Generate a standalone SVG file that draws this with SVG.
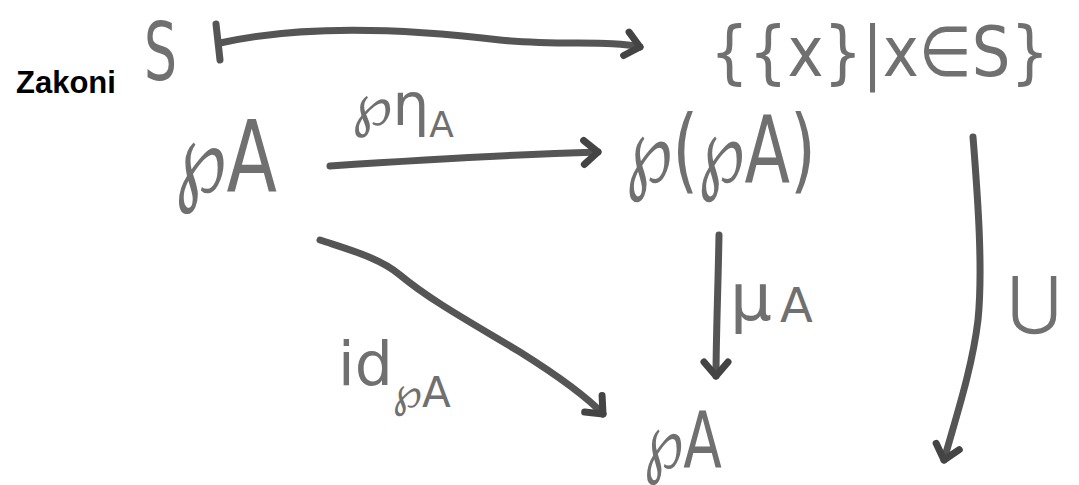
<svg xmlns="http://www.w3.org/2000/svg" width="1079" height="485" viewBox="0 0 1079 485">
<defs>
<style>
.h{font-family:"DejaVu Sans","Noto Sans",sans-serif;fill:#707070}
.c{fill:none;stroke:#555;stroke-width:7;stroke-linecap:round;stroke-linejoin:round}
.t{font-family:"Liberation Sans",Arial,sans-serif;font-weight:bold;font-size:31px;fill:#000}
</style>
<marker id="ah" markerUnits="userSpaceOnUse" markerWidth="40" markerHeight="40" refX="20" refY="20" orient="auto">
<path d="M6,8 L20,20 L6,32" fill="none" stroke="#444" stroke-width="7" stroke-linecap="round" stroke-linejoin="round"/>
</marker>
</defs>
<rect width="1079" height="485" fill="#fff"/>
<text class="t" x="16" y="93">Zakoni</text>
<g id="nS"><text class="h" x="144" y="80" font-size="80" textLength="33" lengthAdjust="spacingAndGlyphs">S</text></g>
<g id="nSet"><text class="h" transform="translate(710,76) scale(0.87,1)" x="0" y="0" font-size="70">{{x}|x∈S}</text></g>
<g id="nPA"><text class="h" x="175" y="192" font-size="100" textLength="102" lengthAdjust="spacingAndGlyphs">℘A</text></g>
<g id="nPPA"><text class="h" x="626" y="182" font-size="92" textLength="190" lengthAdjust="spacingAndGlyphs">℘(℘A)</text></g>
<g id="nPA2"><text class="h" x="644" y="468" font-size="78" textLength="78" lengthAdjust="spacingAndGlyphs">℘A</text></g>
<g id="connectors">
<path class="c" d="M216,24 L220,60"/>
<path class="c" d="M220,43 C300,25 400,28 500,40 C560,46 610,40 640,47" marker-end="url(#ah)"/>
<path class="c" d="M330,166 C420,160 500,155 598,152" marker-end="url(#ah)"/>
<path class="c" d="M320,240 C350,250 380,258 400,275 C430,300 470,322 520,352 C555,374 585,395 603,414" marker-end="url(#ah)"/>
<path class="c" d="M719,235 C718,290 716,340 716,376" marker-end="url(#ah)"/>
<path class="c" d="M973,137 C978,200 983,270 978,320 C972,370 955,420 944,460" marker-end="url(#ah)"/>
</g>
<g id="lEta"><text class="h" x="352" y="125" font-size="58">℘η<tspan font-size="36" dy="12">A</tspan></text></g>
<g id="lMu"><text class="h" x="730" y="320" font-size="66" letter-spacing="8">μ<tspan font-size="48" dy="2">A</tspan></text></g>
<g id="lId"><text class="h" x="338" y="385" font-size="60">id<tspan font-size="42" dy="22">℘A</tspan></text></g>
<g id="lU"><text class="h" x="1008" y="322" font-size="64">⋃</text></g>
</svg>
